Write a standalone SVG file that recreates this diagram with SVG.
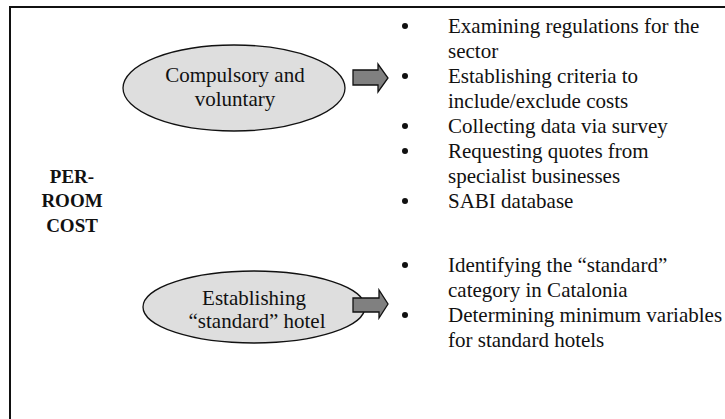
<svg xmlns="http://www.w3.org/2000/svg" width="725" height="419" viewBox="0 0 725 419">
<style>
.t{font-family:'Liberation Serif','DejaVu Serif','Noto Serif',Times,serif;font-size:21px;fill:#111}
.c{text-anchor:middle}
.b{font-weight:bold;font-size:19px}
.ell{fill:#dedede;stroke:#111;stroke-width:1.3}
.arr{fill:#808080;stroke:#111;stroke-width:1.3;stroke-linejoin:miter}
.dot{fill:#111}
</style>
<rect width="725" height="419" fill="#fff"/>
<g id="frame">
<polyline points="726,7 10,7 10,420" fill="none" stroke="#111" stroke-width="2"/>
</g>
<g id="title" font-family="Liberation Serif, serif">
<text class="t b c" x="72" y="183">PER-</text>
<text class="t b c" x="72" y="207">ROOM</text>
<text class="t b c" x="72" y="232">COST</text>
</g>
<g id="node-compulsory" font-family="Liberation Serif, serif">
<ellipse class="ell" cx="234" cy="88" rx="111" ry="43"/>
<text class="t c" x="235" y="82">Compulsory and</text>
<text class="t c" x="235" y="106">voluntary</text>
</g>
<g id="node-standard" font-family="Liberation Serif, serif">
<ellipse class="ell" cx="254" cy="307" rx="111" ry="36"/>
<text class="t c" x="254" y="305">Establishing</text>
<text class="t c" x="257" y="328">“standard” hotel</text>
</g>
<g id="connectors">
<polygon class="arr" points="353,70 378,70 378,64 388,78 378,92 378,85 353,85"/>
<polygon class="arr" points="353,298 379,298 379,290 388,304 379,318 379,312 353,312"/>
</g>
<g id="list-1" font-family="Liberation Serif, serif">
<circle class="dot" cx="405" cy="26" r="3"/>
<circle class="dot" cx="405" cy="76" r="3"/>
<circle class="dot" cx="405" cy="126" r="3"/>
<circle class="dot" cx="405" cy="151" r="3"/>
<circle class="dot" cx="405" cy="201" r="3"/>
<text class="t" x="448" y="33">Examining regulations for the</text>
<text class="t" x="448" y="58">sector</text>
<text class="t" x="448" y="83">Establishing criteria to</text>
<text class="t" x="448" y="108">include/exclude costs</text>
<text class="t" x="448" y="133">Collecting data via survey</text>
<text class="t" x="448" y="158">Requesting quotes from</text>
<text class="t" x="448" y="183">specialist businesses</text>
<text class="t" x="448" y="208">SABI database</text>
</g>
<g id="list-2" font-family="Liberation Serif, serif">
<circle class="dot" cx="405" cy="265" r="3"/>
<circle class="dot" cx="405" cy="315" r="3"/>
<text class="t" x="448" y="272">Identifying the “standard”</text>
<text class="t" x="448" y="297">category in Catalonia</text>
<text class="t" x="448" y="322">Determining minimum variables</text>
<text class="t" x="448" y="347">for standard hotels</text>
</g>
</svg>
